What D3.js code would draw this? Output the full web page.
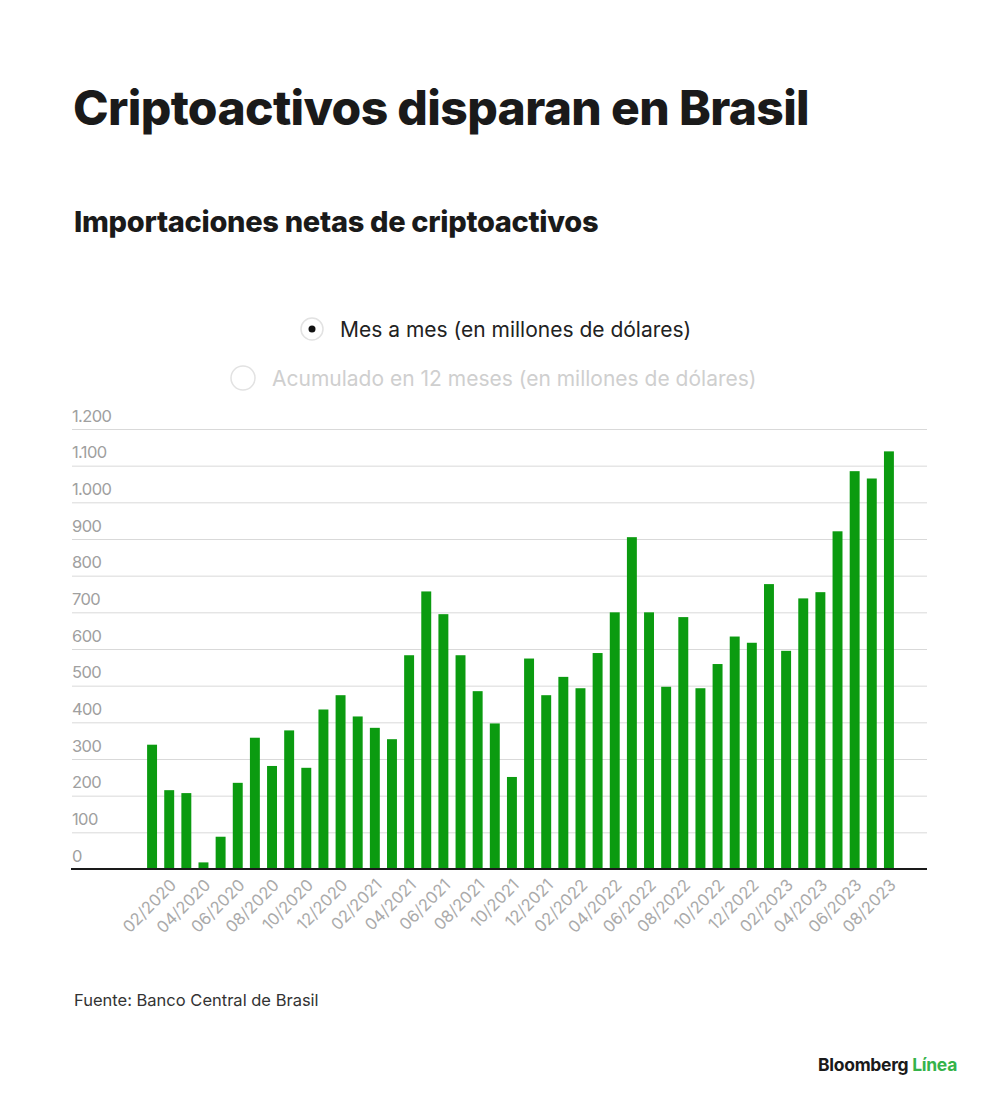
<!DOCTYPE html>
<html lang="es">
  <head>
    <title>Criptoactivos disparan en Brasil</title>
    <meta charset="UTF-8" />
    <script src="https://d3js.org/d3.v7.min.js"></script>
    <style>
      body {
        margin: 0;
        background-color: #ffffff;
        font-family: Inter, "Noto Sans", Arial, sans-serif;
      }
      svg text {
        font-family: Inter, "Noto Sans", Arial, sans-serif;
      }
    </style>
  </head>
  <body>
    <div id="chart"></div>

    <script>
      // Monthly values, 01/2020 .. 08/2023 (millions of USD)
      const months = [
        "01/2020", "02/2020", "03/2020", "04/2020", "05/2020", "06/2020",
        "07/2020", "08/2020", "09/2020", "10/2020", "11/2020", "12/2020",
        "01/2021", "02/2021", "03/2021", "04/2021", "05/2021", "06/2021",
        "07/2021", "08/2021", "09/2021", "10/2021", "11/2021", "12/2021",
        "01/2022", "02/2022", "03/2022", "04/2022", "05/2022", "06/2022",
        "07/2022", "08/2022", "09/2022", "10/2022", "11/2022", "12/2022",
        "01/2023", "02/2023", "03/2023", "04/2023", "05/2023", "06/2023",
        "07/2023", "08/2023"
      ];
      const values = [
        339, 215, 207, 18, 88, 235, 358, 281, 378, 276, 435, 474,
        416, 385, 354, 583, 757, 695, 583, 485, 397, 251, 574, 474,
        524, 493, 589, 700, 905, 700, 497, 687, 493, 559, 634, 617,
        777, 595, 738, 755, 921, 1085, 1065, 1139
      ];
      const yTicks = [0, 100, 200, 300, 400, 500, 600, 700, 800, 900, 1000, 1100, 1200];
      const xTickLabels = months.filter((m, i) => i % 2 === 1);
      const legendItems = [
        "Mes a mes (en millones de dólares)",
        "Acumulado en 12 meses (en millones de dólares)"
      ];

      const data = months.map((m, i) => ({ month: m, value: values[i] }));

      const width = 1000, height = 1110;
      const svg = d3.select("#chart").append("svg")
        .attr("width", width)
        .attr("height", height);

      // Titles
      svg.append("text")
        .attr("x", 73).attr("y", 125)
        .attr("font-size", 48).attr("font-weight", 800)
        .attr("letter-spacing", "-0.65px")
        .attr("fill", "#1a1a1a")
        .text("Criptoactivos disparan en Brasil");

      svg.append("text")
        .attr("x", 74).attr("y", 232)
        .attr("font-size", 29).attr("font-weight", 800)
        .attr("letter-spacing", "-0.3px")
        .attr("fill", "#1a1a1a")
        .text("Importaciones netas de criptoactivos");

      // Legend (radio buttons)
      const leg1 = svg.append("g");
      leg1.append("circle").attr("cx", 312).attr("cy", 329).attr("r", 11)
        .attr("fill", "#fff").attr("stroke", "#e2e2e2").attr("stroke-width", 1.5);
      leg1.append("circle").attr("cx", 312).attr("cy", 329).attr("r", 3.5)
        .attr("fill", "#111");
      leg1.append("text").attr("x", 340).attr("y", 337)
        .attr("font-size", 21).attr("fill", "#222")
        .attr("font-family", "Roboto, Arial, sans-serif")
        .text(legendItems[0]);

      const leg2 = svg.append("g");
      leg2.append("circle").attr("cx", 243).attr("cy", 378).attr("r", 12)
        .attr("fill", "#fff").attr("stroke", "#e2e2e2").attr("stroke-width", 1.5);
      leg2.append("text").attr("x", 272).attr("y", 386)
        .attr("font-size", 21).attr("fill", "#cfcfcf")
        .attr("font-family", "Roboto, Arial, sans-serif")
        .text(legendItems[1]);

      // Scales
      const plotLeft = 72, plotRight = 927;
      const x = d3.scaleBand()
        .domain(months)
        .range([143.5, 897.5])
        .paddingInner(0.42)
        .paddingOuter(0.21);

      const y = d3.scaleLinear()
        .domain([0, 1200])
        .range([869, 429]);

      // Gridlines + y labels
      const fmt = (v) => v >= 1000 ? d3.format(",")(v).replace(",", ".") : String(v);

      const yAxis = svg.append("g")
        .attr("transform", `translate(${plotLeft},0)`)
        .call(d3.axisRight(y).tickValues(yTicks).tickSize(plotRight - plotLeft).tickFormat(fmt));
      yAxis.select(".domain").remove();
      yAxis.selectAll(".tick line").attr("stroke", "#d9d9d9").attr("stroke-width", 1);
      yAxis.selectAll(".tick text")
        .attr("x", 0).attr("dy", -8)
        .attr("text-anchor", "start")
        .attr("font-size", 16.5)
        .attr("letter-spacing", "-0.6px")
        .attr("fill", "#a0a0a0");

      // Bars
      svg.selectAll(".bar")
        .data(data)
        .enter()
        .append("rect")
        .attr("class", "bar")
        .attr("x", (d) => x(d.month))
        .attr("width", x.bandwidth())
        .attr("y", (d) => y(d.value))
        .attr("height", (d) => y(0) - y(d.value))
        .attr("fill", "#0b9b10");

      // Baseline
      svg.append("line")
        .attr("x1", plotLeft - 1).attr("x2", plotRight)
        .attr("y1", y(0)).attr("y2", y(0))
        .attr("stroke", "#1a1a1a").attr("stroke-width", 2);

      // X axis labels
      const xAxis = svg.append("g")
        .attr("transform", `translate(0,${y(0)})`)
        .call(d3.axisBottom(x).tickValues(xTickLabels).tickSize(0));
      xAxis.select(".domain").remove();
      xAxis.selectAll(".tick text")
        .attr("font-size", 16.5)
        .attr("fill", "#aaaaaa")
        .attr("text-anchor", "end")
        .attr("dx", 0).attr("dy", 0)
        .attr("transform", "translate(6,15) rotate(-45)");

      // Footer
      svg.append("text")
        .attr("x", 74).attr("y", 1006)
        .attr("font-size", 16.5).attr("fill", "#333")
        .attr("letter-spacing", "0px")
        .text("Fuente: Banco Central de Brasil");

      const logo = svg.append("text")
        .attr("x", 957).attr("y", 1071)
        .attr("text-anchor", "end")
        .attr("font-size", 17.5).attr("font-weight", 700)
        .attr("letter-spacing", "-0.3px");
      logo.append("tspan").attr("fill", "#1a1a1a").text("Bloomberg ");
      logo.append("tspan").attr("fill", "#35b34a").text("Línea");
    </script>
  </body>
</html>
